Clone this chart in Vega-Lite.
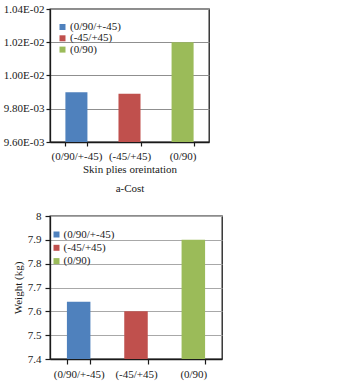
{
  "$schema": "https://vega.github.io/schema/vega-lite/v6.json",
  "background": "white",
  "padding": {"left": 2, "top": 2, "right": 0, "bottom": 0},
  "datasets": {
    "cost": [
      {"orientation": "(0/90/+-45)", "cost": 0.0099},
      {"orientation": "(-45/+45)", "cost": 0.00989},
      {"orientation": "(0/90)", "cost": 0.0102}
    ],
    "weight": [
      {"orientation": "(0/90/+-45)", "weight": 7.64},
      {"orientation": "(-45/+45)", "weight": 7.6},
      {"orientation": "(0/90)", "weight": 7.9}
    ]
  },
  "config": {
    "font": "Liberation Serif",
    "view": {"stroke": "#1a1a1a", "strokeWidth": 1.3},
    "axis": {
      "labelFont": "Liberation Serif",
      "titleFont": "Liberation Serif",
      "labelColor": "#1a1a1a",
      "titleColor": "#1a1a1a",
      "titleFontWeight": "normal",
      "labelFontSize": 11,
      "titleFontSize": 11,
      "domainColor": "#1a1a1a",
      "domainWidth": 1.3,
      "tickColor": "#1a1a1a",
      "tickWidth": 1.2,
      "gridColor": "#999999",
      "gridWidth": 1
    },
    "axisX": {"grid": false, "labelAngle": 0, "tickBand": "extent"},
    "legend": {
      "labelFont": "Liberation Serif",
      "labelFontSize": 11,
      "labelColor": "#1a1a1a",
      "symbolType": "square",
      "symbolSize": 36,
      "symbolStrokeWidth": 0,
      "orient": "none",
      "padding": 0,
      "labelOffset": 2
    }
  },
  "resolve": {"scale": {"color": "independent"}, "legend": {"color": "independent"}},
  "columns": 1,
  "align": "none",
  "spacing": 15,
  "concat": [
    {
      "width": 159,
      "height": 133,
      "data": {"name": "cost"},
      "mark": {"type": "bar", "clip": true},
      "encoding": {
        "x": {
          "field": "orientation",
          "type": "nominal",
          "sort": null,
          "scale": {"paddingInner": 0.585, "paddingOuter": 0.29},
          "axis": {
            "title": ["Skin plies oreintation", "a-Cost"],
            "titleLineHeight": 19,
            "tickSize": 4,
            "labelPadding": 4,
            "titlePadding": 2
          }
        },
        "y": {
          "field": "cost",
          "type": "quantitative",
          "scale": {"domain": [0.0096, 0.0104], "zero": false, "nice": false},
          "axis": {
            "title": null,
            "values": [0.0096, 0.0098, 0.01, 0.0102, 0.0104],
            "labelExpr": "datum.value >= 0.00999 ? format(datum.value * 100, '.2f') + 'E-02' : format(datum.value * 1000, '.2f') + 'E-03'",
            "tickSize": 4,
            "labelPadding": 2,
            "gridColor": "#8f8f8f"
          }
        },
        "color": {
          "field": "orientation",
          "type": "nominal",
          "scale": {
            "domain": ["(0/90/+-45)", "(-45/+45)", "(0/90)"],
            "range": ["#4f81bd", "#c0504d", "#9bbb59"]
          },
          "legend": {"title": null, "legendX": 7, "legendY": 12.5, "rowPadding": -0.7}
        }
      }
    },
    {
      "width": 172,
      "height": 143,
      "data": {"name": "weight"},
      "mark": {"type": "bar", "clip": true},
      "encoding": {
        "x": {
          "field": "orientation",
          "type": "nominal",
          "sort": null,
          "scale": {"paddingInner": 0.59, "paddingOuter": 0.295},
          "axis": {
            "title": "Skin plies oreintation",
            "tickSize": 5,
            "labelPadding": 4.5,
            "titlePadding": 4
          }
        },
        "y": {
          "field": "weight",
          "type": "quantitative",
          "scale": {"domain": [7.4, 8], "zero": false, "nice": false},
          "axis": {
            "title": "Weight (kg)",
            "titlePadding": 4.25,
            "values": [7.4, 7.5, 7.6, 7.7, 7.8, 7.9, 8],
            "format": "~g",
            "tickSize": 5,
            "labelPadding": 4,
            "gridColor": "#a8a8a8"
          }
        },
        "color": {
          "field": "orientation",
          "type": "nominal",
          "scale": {
            "domain": ["(0/90/+-45)", "(-45/+45)", "(0/90)"],
            "range": ["#4f81bd", "#c0504d", "#9bbb59"]
          },
          "legend": {"title": null, "legendX": 1, "legendY": 13, "rowPadding": 1.3, "labelOffset": 1.5}
        }
      }
    }
  ]
}
